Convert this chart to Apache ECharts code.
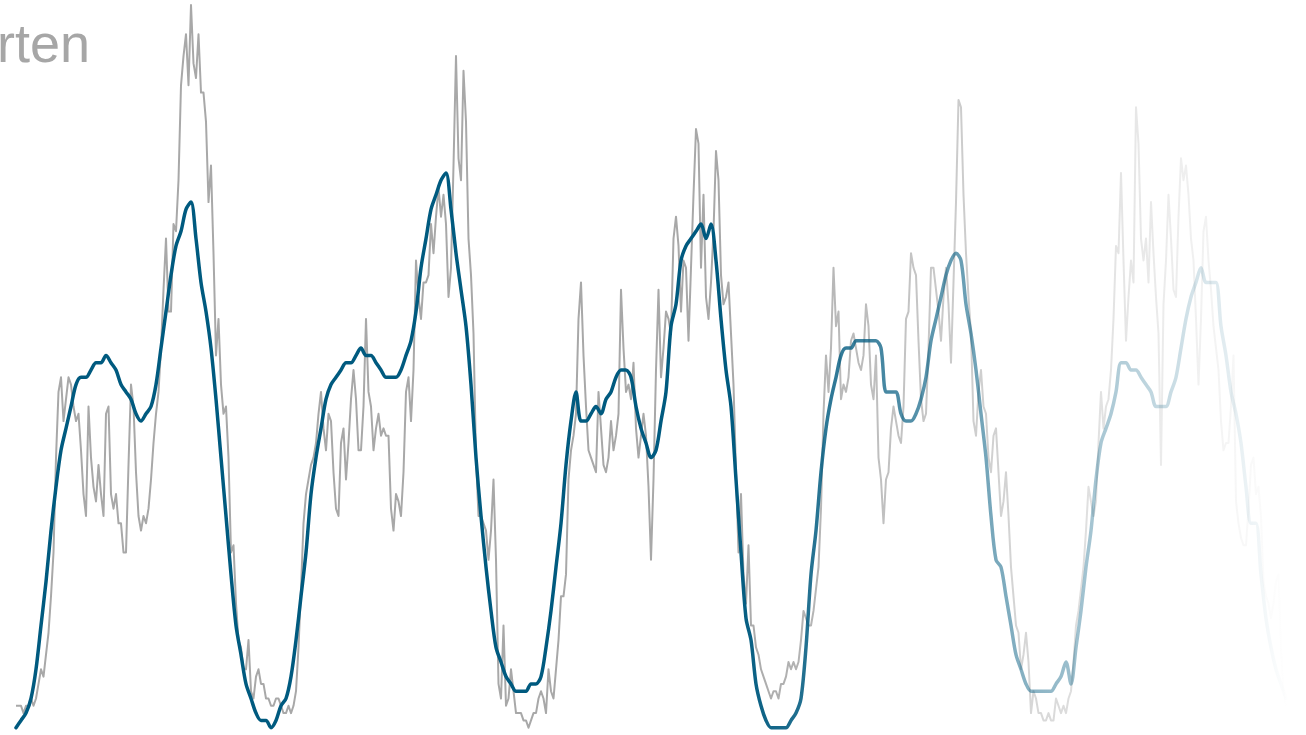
<!DOCTYPE html>
<html>
<head>
<meta charset="utf-8">
<script src="https://cdn.jsdelivr.net/npm/echarts@6/dist/echarts.min.js"></script>
<style>
html,body{margin:0;padding:0;background:#fff;}
#chart{width:1306px;height:735px;}
</style>
</head>
<body>
<div id="chart"></div>
<script>
// Title (left part runs off the canvas in the reference)
const titleText = "Garten";

// Raw series: two samples per week (index/2 = week)
const grayValues = [
4,4,4,3,4,4,5,4,5,7,
9,8,11,14,19,25,38,47,49,43,
46,49,48,45,43,44,39,33,30,45,
38,34,32,37,33,30,44,45,33,31,
33,29,29,25,25,37,48,45,36,30,
28,30,29,31,35,40,44,47,53,61,
68,58,58,70,69,76,89,93,96,89,
100,92,90,96,88,88,84,73,78,66,
52,57,48,44,45,38,25,26,18,13,
12,9,9,13,6,5,8,9,7,7,
5,5,4,4,5,5,4,3,3,4,
3,4,6,12,20,29,33,35,37,38,
40,44,47,42,39,44,43,36,31,30,
40,42,35,40,46,50,46,39,39,45,
57,47,45,39,42,44,41,42,41,41,
31,28,33,32,30,36,47,49,43,50,
65,60,57,62,62,63,70,66,71,75,
71,74,70,60,64,78,93,79,76,91,
84,68,63,55,38,30,30,29,28,24,
28,35,24,7,5,15,4,5,9,6,
3,3,3,2,2,1,2,3,3,5,
6,5,3,9,6,5,9,13,19,19,
22,35,39,41,44,57,62,52,45,39,
38,37,36,47,42,37,36,38,43,39,
41,44,61,53,47,48,46,51,42,38,
41,44,41,34,24,35,50,61,49,53,
58,57,55,68,71,67,58,65,64,54,
64,74,83,81,64,74,60,57,62,69,
80,76,63,59,60,62,55,48,36,25,
33,22,18,26,15,15,12,11,9,8,
7,6,5,6,6,5,7,7,8,10,
9,10,9,10,13,17,16,15,15,17,
20,23,31,44,52,47,53,64,56,58,
46,48,47,49,54,55,53,51,50,52,
59,56,48,46,52,38,35,29,35,36,
42,45,43,41,40,45,57,58,66,64,
63,54,46,43,44,53,64,64,61,58,
54,60,64,59,51,62,73,87,86,74,
66,60,55,43,41,47,50,45,44,38,
36,41,42,36,30,32,36,30,23,19,
15,14,9,11,14,10,3,6,5,3,
3,2,2,3,2,2,5,4,3,4,
3,5,6,10,15,17,20,23,28,34,
32,30,32,40,47,42,45,46,50,57,
67,66,77,65,54,60,65,62,86,81,
68,65,68,62,73,66,60,55,37,59,
65,74,68,61,60,71,79,76,78,74,
68,65,57,48,57,69,71,65,61,56,
53,50,43,39,40,40,45,52,32,29,
27,26,26,31,37,38,33,34,30,21,
19,18,16,18,21,22,12,6,4
];

// Smoothed trend: one sample per week
const trendValues = [
1,2,3,5,9,15,21,28,34,39,
42,45,48,49,49,50,51,51,52,51,
50,48,47,46,44,43,44,45,48,53,
58,63,67,69,72,73,68,62,58,53,
46,38,30,22,15,11,7,5,3,2,
2,1,2,4,5,8,13,19,25,33,
38,42,46,48,49,50,51,51,52,53,
52,52,51,50,49,49,49,50,52,54,
58,64,68,72,74,76,77,72,66,61,
56,48,38,30,23,17,12,10,8,7,
6,6,6,7,7,8,12,17,23,29,
37,43,47,43,43,44,45,44,46,47,
49,50,50,49,45,42,40,38,39,43,
47,56,59,65,67,68,69,70,68,70,
65,57,50,45,35,25,16,13,7,4,
2,1,1,1,1,2,3,5,12,22,
28,36,42,46,49,52,53,53,54,54,
54,54,54,53,47,47,47,44,43,43,
44,46,49,54,57,60,63,65,66,65,
59,55,50,44,38,30,24,23,19,15,
11,9,7,6,6,6,6,6,7,8,
10,7,12,17,23,28,35,40,42,44,
47,51,51,50,50,49,48,47,45,45,
45,47,49,53,57,60,62,64,62,62,
62,56,52,47,44,40,34,29,29,22,
16,12,9,7,5
];

const grayData = grayValues.map((v, j) => [j / 2, v]);
const trendData = trendValues.map((v, i) => [i, v]);
const lastWeek = trendValues.length - 1;

const chart = echarts.init(document.getElementById('chart'), null, {renderer: 'canvas'});

function fade(r, g, b) {
  return new echarts.graphic.LinearGradient(730, 0, 1290, 0, [
    {offset: 0, color: `rgba(${r},${g},${b},1)`},
    {offset: 1, color: `rgba(${r},${g},${b},0)`}
  ], true);
}

chart.setOption({
  animation: false,
  backgroundColor: '#ffffff',
  grid: {left: 16, right: 20, top: 5, bottom: 0, containLabel: false},
  xAxis: {
    type: 'value', min: 0, max: lastWeek,
    show: false
  },
  yAxis: {
    type: 'value', min: 0, max: 100,
    show: false
  },
  graphic: [{
    type: 'text',
    x: 90, y: 47,
    silent: true,
    style: {
      text: titleText,
      fill: '#a6a6a6',
      font: '54px "Liberation Sans", Arial, sans-serif',
      align: 'right',
      verticalAlign: 'middle'
    }
  }],
  series: [
    {
      type: 'line',
      data: grayData,
      showSymbol: false,
      symbol: 'none',
      silent: true,
      lineStyle: {width: 2, color: fade(168, 168, 168), join: 'round'}
    },
    {
      type: 'line',
      data: trendData,
      showSymbol: false,
      symbol: 'none',
      silent: true,
      smooth: 0.3,
      lineStyle: {width: 3.5, color: fade(0, 90, 127), join: 'round', cap: 'round'}
    }
  ]
});
</script>
</body>
</html>
